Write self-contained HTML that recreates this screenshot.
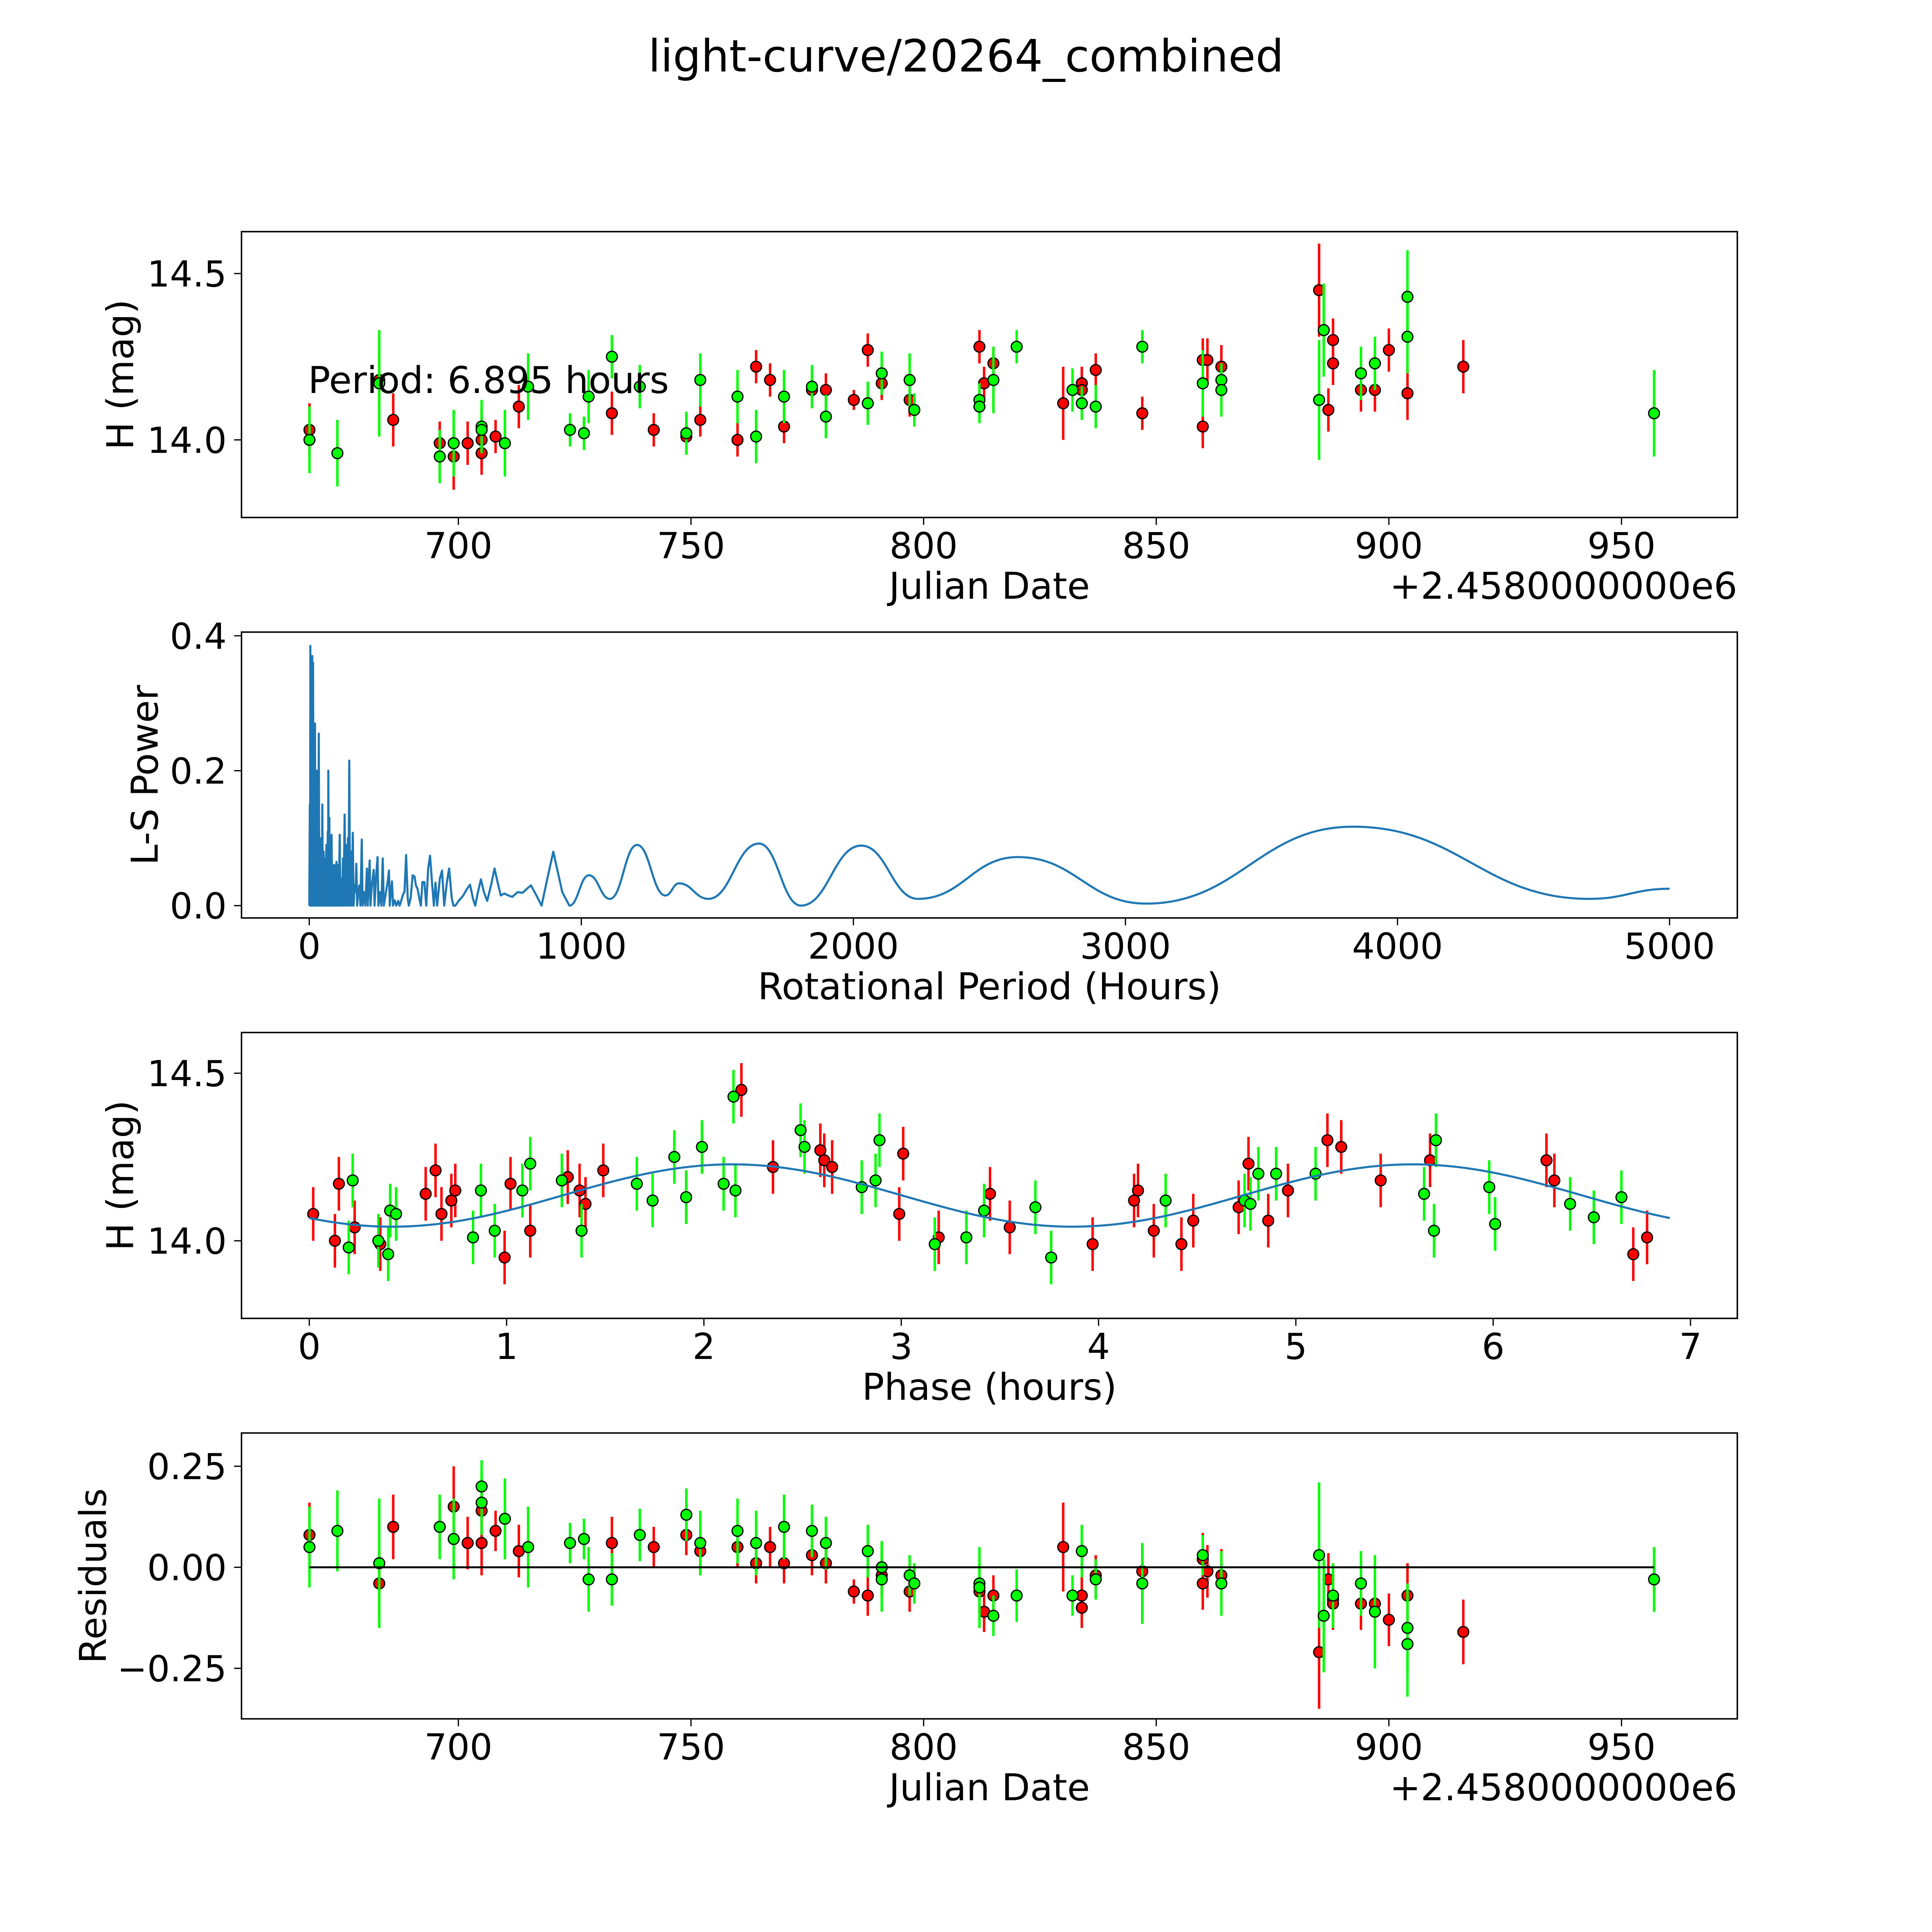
<!DOCTYPE html>
<html><head><meta charset="utf-8"><title>light-curve/20264_combined</title>
<style>
html,body{margin:0;padding:0;background:#fff;overflow:hidden;width:100%;height:100%;}
svg{display:block;width:100vw;height:100vh;}
text{font-family:"DejaVu Sans","Liberation Sans",sans-serif;fill:#000;}
</style></head>
<body>
<svg id="fig" xmlns="http://www.w3.org/2000/svg" viewBox="0 0 1568 1568" preserveAspectRatio="xMidYMid meet">
<rect x="0" y="0" width="1568" height="1568" fill="#fff"/>
<text x="784" y="58" font-size="36" text-anchor="middle">light-curve/20264_combined</text>
</svg>
<script>
// ---- Panel 1: light curve (JD offset from 2458000) ----
const redJD=[668,683,686,696,699,702,705,705,708,713,733,742,749,752,760,764,767,770,776,779,785,788,791,797,812,813,815,830,834,834,837,847,860,860,861,864,885,887,888,888,894,897,900,904,916];
const redMag=[14.03,14.18,14.06,13.99,13.95,13.99,14.00,13.96,14.01,14.10,14.08,14.03,14.01,14.06,14.00,14.22,14.18,14.04,14.15,14.15,14.12,14.27,14.17,14.12,14.28,14.17,14.23,14.11,14.17,14.15,14.21,14.08,14.24,14.04,14.24,14.22,14.45,14.09,14.30,14.23,14.15,14.15,14.27,14.14,14.22];
const redErr=[0.08,0.08,0.08,0.065,0.1,0.065,0.08,0.065,0.05,0.065,0.065,0.05,0.05,0.05,0.05,0.05,0.05,0.05,0.05,0.05,0.03,0.05,0.05,0.05,0.05,0.05,0.05,0.11,0.05,0.05,0.05,0.05,0.065,0.065,0.065,0.065,0.14,0.065,0.065,0.065,0.065,0.065,0.065,0.08,0.08];
const greenJD=[668,674,683,696,699,705,705,710,715,724,727,728,733,739,749,752,760,764,770,776,779,788,791,797,798,812,812,815,820,832,834,837,847,860,864,864,885,886,894,897,904,904,957];
const greenMag=[14.00,13.96,14.17,13.95,13.99,14.04,14.03,13.99,14.16,14.03,14.02,14.13,14.25,14.16,14.02,14.18,14.13,14.01,14.13,14.16,14.07,14.11,14.20,14.18,14.09,14.12,14.10,14.18,14.28,14.15,14.11,14.10,14.28,14.17,14.18,14.15,14.12,14.33,14.20,14.23,14.43,14.31,14.08];
const greenErr=[0.1,0.1,0.16,0.08,0.1,0.08,0.065,0.1,0.1,0.05,0.05,0.08,0.065,0.065,0.065,0.08,0.08,0.08,0.08,0.065,0.065,0.065,0.065,0.08,0.05,0.05,0.05,0.1,0.05,0.065,0.05,0.065,0.05,0.1,0.05,0.08,0.18,0.14,0.08,0.08,0.14,0.11,0.13];
const jdTicks=[700,750,800,850,900,950];

// ---- Panel 2: Lomb-Scargle periodogram ----
const lsPeriod=[0,2,3,4,6,8,9,11,12,14,16,18,19,21,23,25,26,28,30,32,33,35,37,40,42,45,46,48,50,53,55,58,60,63,65,68,69,70,72,74,75,77,79,82,84,86,88,90,92,96,98,100,102,106,108,112,114,118,120,124,126,130,132,136,138,142,144,147,150,154,156,160,163,167,170,173,176,180,184,188,193,196,202,206,212,215,218,222,225,230,237,240,245,251,254,260,265,270,274,282,288,293,296,300,304,308,314,320,327,332,340,345,350,356,362,366,373,380,387,392,398,405,410,416,423,430,437,444,452,458,464,470,480,488,496,506,514,524,530,537,549,566,580,591,602,610,620,631,642,654,668,681,692,704,717,732,746,766,784,800,815,835,854,875,897,930,956];
const lsPower=[0,0.15,0,0.385,0,0.3,0,0.37,0,0.36,0,0.2,0,0.27,0,0.2,0,0.2,0,0.14,0,0.255,0,0.1,0,0.07,0,0.15,0,0.08,0,0.07,0,0.09,0,0.11,0,0.2,0,0.13,0,0.1,0,0.105,0,0.06,0,0.06,0,0.06,0,0.065,0,0.06,0,0.105,0,0.04,0,0.07,0,0.135,0,0.09,0,0.1,0,0.215,0,0.08,0,0.108,0,0.03,0.02,0.062,0,0.02,0.03,0,0.098,0,0.02,0,0.055,0,0.03,0.067,0,0.03,0.053,0,0.04,0.072,0,0.02,0,0.07,0,0.02,0.035,0.052,0,0.02,0.036,0,0.008,0,0.007,0,0.01,0.017,0.02,0.075,0.01,0,0.012,0.045,0.043,0.03,0.025,0.01,0,0.035,0.035,0,0.055,0.074,0.03,0,0.034,0,0.04,0.052,0,0.035,0.055,0.01,0,0,0.007,0.015,0.025,0.031,0.01,0,0.02,0.039,0.02,0.007,0.03,0.055,0.035,0.015,0.018,0.015,0.013,0.02,0.019,0.025,0.03,0.015,0,0.04,0.08,0.02,0];
const lsSmoothPeriod=[956,1028,1105,1205,1309,1359,1467,1653,1807,2029,2237,2604,3075,3836,4706,5000];
const lsSmoothPower=[0,0.045,0.01,0.09,0.015,0.033,0.01,0.092,0.0,0.089,0.01,0.072,0.003,0.117,0.01,0.025];
const lsXTicks=[0,1000,2000,3000,4000,5000];
const lsYTicks=[0.0,0.2,0.4];

// ---- Panel 3: phase-folded ----
const phRed=[0.02,0.13,0.15,0.23,0.36,0.59,0.64,0.67,0.72,0.74,0.99,1.02,1.12,1.31,1.37,1.40,1.49,2.19,2.35,2.59,2.61,2.65,2.99,3.01,3.19,3.45,3.55,3.97,4.18,4.20,4.28,4.42,4.48,4.71,4.76,4.86,4.96,5.16,5.23,5.43,5.68,6.27,6.31,6.71,6.78];
const phRedMag=[14.08,14.0,14.17,14.04,13.99,14.14,14.21,14.08,14.12,14.15,13.95,14.17,14.03,14.19,14.15,14.11,14.21,14.45,14.22,14.27,14.24,14.22,14.08,14.26,14.01,14.14,14.04,13.99,14.12,14.15,14.03,13.99,14.06,14.10,14.23,14.06,14.15,14.30,14.28,14.18,14.24,14.24,14.18,13.96,14.01];
const phGreen=[0.20,0.22,0.35,0.40,0.41,0.44,0.83,0.87,0.94,1.08,1.12,1.28,1.38,1.66,1.74,1.85,1.91,1.99,2.10,2.15,2.16,2.49,2.51,2.80,2.87,2.89,3.17,3.33,3.42,3.68,3.76,4.34,4.74,4.77,4.81,4.90,5.10,5.65,5.70,5.71,5.98,6.01,6.39,6.51,6.65];
const phGreenMag=[13.98,14.18,14.0,13.96,14.09,14.08,14.01,14.15,14.03,14.15,14.23,14.18,14.03,14.17,14.12,14.25,14.13,14.28,14.17,14.43,14.15,14.33,14.28,14.16,14.18,14.30,13.99,14.01,14.09,14.10,13.95,14.12,14.12,14.11,14.2,14.2,14.2,14.14,14.03,14.30,14.16,14.05,14.11,14.07,14.13];
const fitParams=[14.135,0.093,0.42,3.4475,6.895]; // mean, amplitude, phase of minimum, half-period, period
const phXTicks=[0,1,2,3,4,5,6,7];
const magTicks=[14.0,14.5];

// ---- Panel 4: residuals ----
const resRedJD=[668,683,686,696,699,702,705,705,708,713,733,742,749,752,760,764,767,770,776,779,785,788,791,797,812,813,815,830,834,834,837,847,860,860,861,864,885,887,888,888,894,897,900,904,916];
const resRed=[0.08,-0.04,0.10,0.10,0.15,0.06,0.06,0.14,0.09,0.04,0.06,0.05,0.08,0.04,0.05,0.01,0.05,0.01,0.03,0.01,-0.06,-0.07,-0.02,-0.06,-0.06,-0.11,-0.07,0.05,-0.07,-0.10,-0.02,-0.01,0.02,-0.04,-0.01,-0.02,-0.21,-0.03,-0.08,-0.09,-0.09,-0.09,-0.13,-0.07,-0.16];
const resGreenJD=[668,674,683,696,699,705,705,710,715,724,727,728,733,739,749,752,760,764,770,776,779,788,791,791,797,798,812,812,815,820,832,834,837,847,860,864,885,886,888,894,897,904,904,957];
const resGreen=[0.05,0.09,0.01,0.10,0.07,0.16,0.20,0.12,0.05,0.06,0.07,-0.03,-0.03,0.08,0.13,0.06,0.09,0.06,0.10,0.09,0.06,0.04,0.0,-0.03,-0.02,-0.04,-0.04,-0.05,-0.12,-0.07,-0.07,0.04,-0.03,-0.04,0.03,-0.04,0.03,-0.12,-0.07,-0.04,-0.11,-0.15,-0.19,-0.03];
const resTicks=[-0.25,0.0,0.25];
const resTickLabels=["\u22120.25","0.00","0.25"];

const NS="http://www.w3.org/2000/svg";
const svg=document.getElementById('fig');
function mk(tag,attrs,parent){const e=document.createElementNS(NS,tag);for(const k in attrs)e.setAttribute(k,attrs[k]);(parent||svg).appendChild(e);return e;}
function lin(d0,d1,r0,r1){return v=>r0+(v-d0)*(r1-r0)/(d1-d0);}

function panel(name){
  const g=mk('g',{});
  
  
  return g;
}
function frame(g,box){
  const r=mk('rect',{x:box[0],y:box[1],width:box[2]-box[0],height:box[3]-box[1],fill:'none',stroke:'#000','stroke-width':1.2},g);
  
  
}
function xticks(g,box,ticks,labels,sx){
  ticks.forEach((t,i)=>{
    const x=sx(t);
    const l=mk('line',{x1:x,x2:x,y1:box[3],y2:box[3]+6,stroke:'#000','stroke-width':1},g);
    
    
    const tx=mk('text',{x:x,y:box[3]+33,'font-size':29,'text-anchor':'middle'},g);
    tx.textContent=labels[i];
    
    
  });
}
function yticks(g,box,ticks,labels,sy){
  ticks.forEach((t,i)=>{
    const y=sy(t);
    const l=mk('line',{x1:box[0]-6,x2:box[0],y1:y,y2:y,stroke:'#000','stroke-width':1},g);
    
    
    const tx=mk('text',{x:box[0]-12,y:y+10.5,'font-size':29,'text-anchor':'end'},g);
    tx.textContent=labels[i];
    
    
  });
}
function label(g,x,y,txt,name,rot){
  const t=mk('text',{x:x,y:y,'font-size':30,'text-anchor':'middle'},g);
  if(rot)t.setAttribute('transform','rotate(-90 '+x+' '+y+')');
  t.textContent=txt;
  
  
}
function errPoints(g,xs,ys,errs,color,sx,sy,name){
  const sg=mk('g',{},g);
  
  
  xs.forEach((xv,i)=>{
    const e=(errs&&errs[i]!==undefined)?errs[i]:0.08;
    const x=sx(xv);
    const b=mk('line',{x1:x,x2:x,y1:sy(ys[i]-e),y2:sy(ys[i]+e),stroke:color,'stroke-width':2},sg);
    
    
  });
  xs.forEach((xv,i)=>{
    const c=mk('circle',{cx:sx(xv),cy:sy(ys[i]),r:4.4,fill:color,stroke:'#000','stroke-width':1},sg);
    
    
  });
}

// Panel 1
const B1=[196,188,1410,420];
const sxJD=lin(700,950,372,1316);
const sy1=lin(14.0,14.5,357,222);
const g1=panel('light-curve-panel');
errPoints(g1,redJD,redMag,redErr,'#ff0000',sxJD,sy1,'red-series');
errPoints(g1,greenJD,greenMag,greenErr,'#00ff00',sxJD,sy1,'green-series');
frame(g1,B1);
xticks(g1,B1,jdTicks,jdTicks.map(String),sxJD);
yticks(g1,B1,magTicks,magTicks.map(v=>v.toFixed(1)),sy1);
label(g1,803,486,'Julian Date','x-axis-title');
label(g1,108,304,'H (mag)','y-axis-title',true);
let off=mk('text',{x:1410,y:486,'font-size':30,'text-anchor':'end'},g1);off.textContent='+2.4580000000e6';


let per=mk('text',{x:250,y:319,'font-size':30,'text-anchor':'start'},g1);per.textContent='Period: '+fitParams[4].toFixed(3)+' hours';



// Panel 2
const B2=[196,513,1410,745];
const sx2=lin(0,5000,251,1355);
const sy2=lin(0,0.4,735,516);
const g2=panel('periodogram-panel');
let d='M'+sx2(lsPeriod[0])+' '+sy2(lsPower[0]);
for(let i=1;i<lsPeriod.length;i++)d+=' L'+sx2(lsPeriod[i]).toFixed(2)+' '+sy2(lsPower[i]).toFixed(2);
for(let i=1;i<lsSmoothPeriod.length;i++){
  const x0=sx2(lsSmoothPeriod[i-1]),y0=sy2(lsSmoothPower[i-1]),x1=sx2(lsSmoothPeriod[i]),y1=sy2(lsSmoothPower[i]);
  const m=(x1-x0)/2;
  d+=' C'+(x0+m*0.9).toFixed(2)+' '+y0.toFixed(2)+' '+(x1-m*0.9).toFixed(2)+' '+y1.toFixed(2)+' '+x1.toFixed(2)+' '+y1.toFixed(2);
}
const lp=mk('path',{d:d,fill:'none',stroke:'#1f77b4','stroke-width':1.7,'stroke-linejoin':'round'},g2);


frame(g2,B2);
xticks(g2,B2,lsXTicks,lsXTicks.map(String),sx2);
yticks(g2,B2,lsYTicks,lsYTicks.map(v=>v.toFixed(1)),sy2);
label(g2,803,811,'Rotational Period (Hours)','x-axis-title');
label(g2,128,629,'L-S Power','y-axis-title',true);

// Panel 3
const B3=[196,838,1410,1070];
const sx3=lin(0,7,251,1372);
const sy3=lin(14.0,14.5,1007,871);
const g3=panel('phase-panel');
errPoints(g3,phRed,phRedMag,null,'#ff0000',sx3,sy3,'red-phase-series');
errPoints(g3,phGreen,phGreenMag,null,'#00ff00',sx3,sy3,'green-phase-series');
let fd='';
for(let i=0;i<=300;i++){
  const p=fitParams[4]*i/300;
  const m=fitParams[0]-fitParams[1]*Math.cos(2*Math.PI*(p-fitParams[2])/fitParams[3]);
  fd+=(i?' L':'M')+sx3(p).toFixed(2)+' '+sy3(m).toFixed(2);
}
const fp=mk('path',{d:fd,fill:'none',stroke:'#1f77b4','stroke-width':1.7},g3);


frame(g3,B3);
xticks(g3,B3,phXTicks,phXTicks.map(String),sx3);
yticks(g3,B3,magTicks,magTicks.map(v=>v.toFixed(1)),sy3);
label(g3,803,1136,'Phase (hours)','x-axis-title');
label(g3,108,954,'H (mag)','y-axis-title',true);

// Panel 4
const B4=[196,1163,1410,1395];
const sy4=lin(0,0.25,1272,1190);
const g4=panel('residuals-panel');
errPoints(g4,resRedJD,resRed,redErr,'#ff0000',sxJD,sy4,'red-residual-series');
errPoints(g4,resGreenJD,resGreen,greenErr,'#00ff00',sxJD,sy4,'green-residual-series');
const zl=mk('line',{x1:sxJD(668),x2:sxJD(957),y1:sy4(0),y2:sy4(0),stroke:'#000','stroke-width':1.6},g4);


frame(g4,B4);
xticks(g4,B4,jdTicks,jdTicks.map(String),sxJD);
yticks(g4,B4,resTicks,resTickLabels,sy4);
label(g4,803,1461,'Julian Date','x-axis-title');
label(g4,86,1279,'Residuals','y-axis-title',true);
let off2=mk('text',{x:1410,y:1461,'font-size':30,'text-anchor':'end'},g4);off2.textContent='+2.4580000000e6';


</script>
</body></html>
